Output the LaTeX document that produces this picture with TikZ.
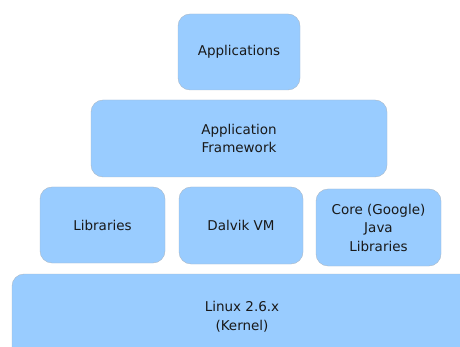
\documentclass[tikz,border=0pt]{standalone}
\usepackage{fontspec}
\setmainfont{DejaVu Sans}
\usepackage{tikz}

\definecolor{layerblue}{HTML}{99CCFF}
\definecolor{layeredge}{HTML}{A8B8C8}

\begin{document}
\begin{tikzpicture}[
        x=1pt, y=-1pt,
        layer box/.style = {rectangle, rounded corners=12pt, draw=layeredge, fill=layerblue, text=black!90,
            align=center, font=\fontsize{13.5}{18.5}\selectfont, inner sep=2pt},
        ]
        \clip (0,0) rectangle (460,347);
        \useasboundingbox (0,0) rectangle (460,347);

        % Top layer
        \node[layer box, minimum width=122pt, minimum height=76pt] (apps) at (239, 52) {Applications};

        % Framework layer
        \node[layer box, minimum width=296pt, minimum height=77pt] (framework) at (239, 138.5) {Application\\Framework};

        % Middle layer
        \node[layer box, minimum width=125pt, minimum height=76pt] (libs) at (102.5, 225) {Libraries};
        \node[layer box, minimum width=124pt, minimum height=77pt] (dalvik) at (241, 225.5) {Dalvik VM};
        \node[layer box, minimum width=125pt, minimum height=77pt] (core) at (378.5, 227.5) {Core (Google)\\Java\\Libraries};

        % Kernel layer
        \node[layer box, minimum width=460pt, minimum height=86pt] (linux) at (242, 317) {Linux 2.6.x\\(Kernel)};
    \end{tikzpicture}
\end{document}
